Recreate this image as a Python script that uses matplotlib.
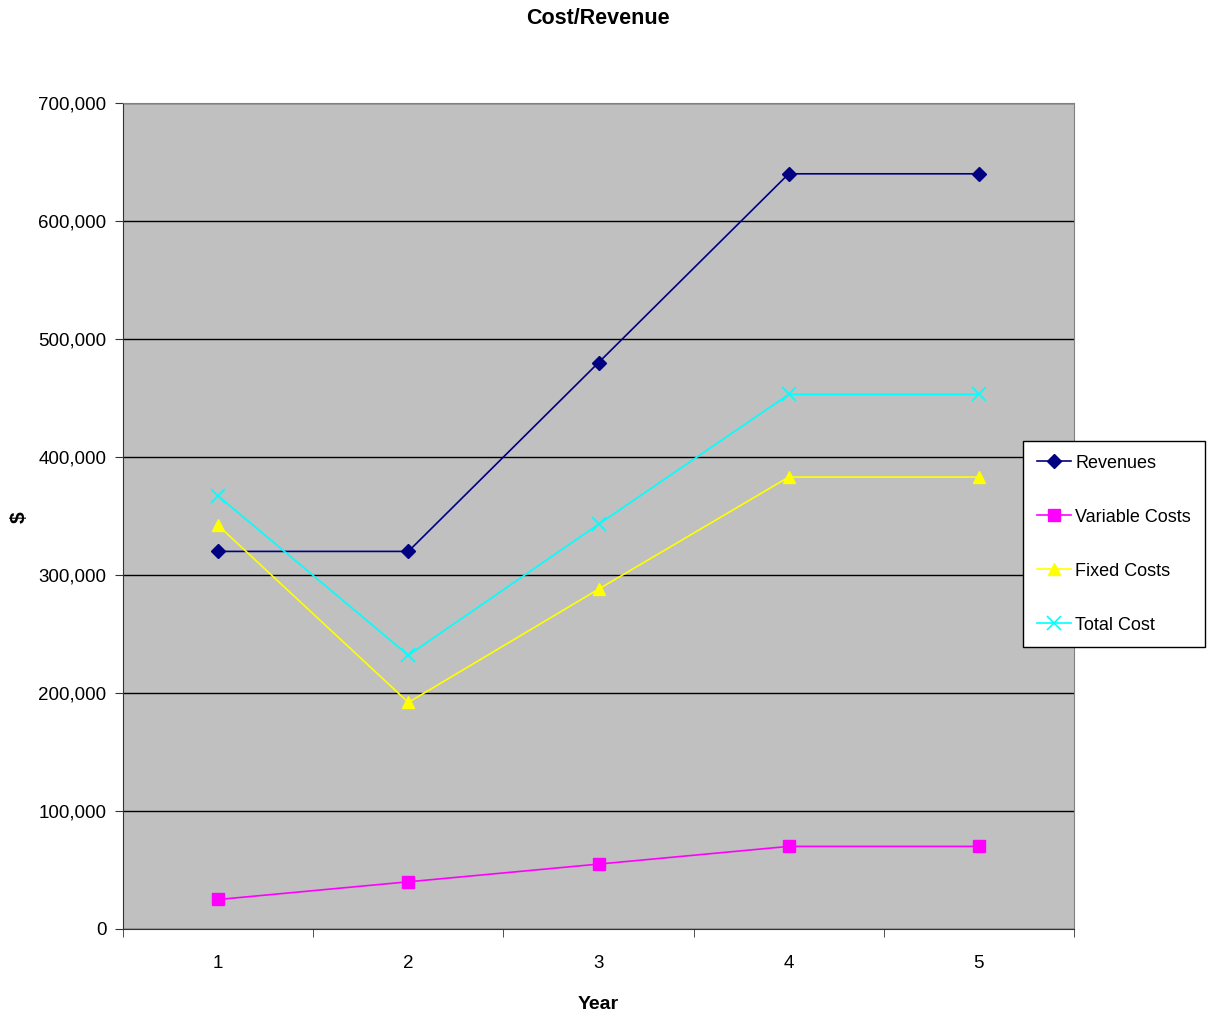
import matplotlib
matplotlib.use("Agg")
import matplotlib.pyplot as plt
from matplotlib.ticker import FuncFormatter, FixedLocator

plt.rcParams['font.family'] = ['Liberation Sans', 'DejaVu Sans']

# data
years = [1, 2, 3, 4, 5]
revenues = [320000, 320000, 480000, 640000, 640000]
variable_costs = [25000, 40000, 55000, 70000, 70000]
fixed_costs = [342000, 192000, 288000, 383000, 383000]
total_cost = [367000, 232000, 343000, 453000, 453000]

fig = plt.figure(figsize=(12.1, 10.22), dpi=100)
ax = fig.add_axes([0.1017, 0.0910, 0.7859, 0.8082])
ax.set_facecolor('#c0c0c0')

ax.plot(years, revenues, color='#000080', marker='D', markersize=7, lw=1.2, label='Revenues')
ax.plot(years, variable_costs, color='#ff00ff', marker='s', markersize=8, lw=1.2, label='Variable Costs')
ax.plot(years, fixed_costs, color='#ffff00', marker='^', markersize=9, lw=1.2, label='Fixed Costs')
ax.plot(years, total_cost, color='#00ffff', marker='x', markersize=10, mew=1.2, lw=1.2, label='Total Cost')

ax.set_xlim(0.5, 5.5)
ax.set_ylim(0, 700000)
ax.set_yticks(range(0, 700001, 100000))
ax.yaxis.set_major_formatter(FuncFormatter(lambda v, p: f'{int(v):,}'))
ax.set_xticks(years)
ax.xaxis.set_minor_locator(FixedLocator([0.5, 1.5, 2.5, 3.5, 4.5, 5.5]))
ax.tick_params(axis='x', which='major', length=0, pad=19, labelsize=13.5)
ax.tick_params(axis='x', which='minor', length=6, direction='out', color='#333333')
ax.tick_params(axis='y', length=6, direction='out', labelsize=13.5, pad=6, color='#333333')
ax.grid(axis='y', color='black', lw=1)
ax.set_axisbelow(True)

for s in ['top', 'right']:
    ax.spines[s].set_color('#808080')
for s in ['left', 'bottom']:
    ax.spines[s].set_color('#333333')

fig.text(0.4942, 0.982, 'Cost/Revenue', fontsize=15.5, fontweight='bold', ha='center', va='center')
fig.text(0.4942, 0.0175, 'Year', fontsize=14, fontweight='bold', ha='center', va='center')
fig.text(0.0157, 0.494, '$', fontsize=15, fontweight='bold', ha='center', va='center', rotation=90)

leg = ax.legend(loc='upper left', bbox_to_anchor=(1023 / 1210, 1 - 441 / 1022),
                bbox_transform=fig.transFigure, fontsize=13,
                frameon=True, fancybox=False, edgecolor='black', framealpha=1,
                labelspacing=2.05, handlelength=1.9, handletextpad=0.25,
                borderpad=0.75, borderaxespad=0)
leg.get_frame().set_linewidth(1)

fig.savefig('out.png', dpi=100)
